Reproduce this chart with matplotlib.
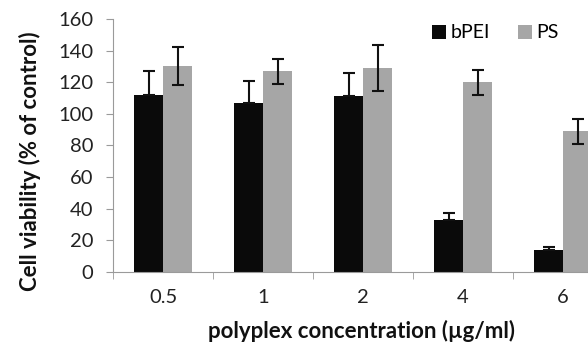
import numpy as np
from matplotlib import pyplot as plt

concentrations = ['0.5', '1', '2', '4', '6']
bpei = [112, 107, 111, 33, 14]
bpei_err = [15, 14, 15, 4.5, 2]
ps = [130, 127, 129, 120, 89]
ps_err = [12, 8, 14.5, 8, 8]

plt.rcParams['font.family'] = ['Lato', 'DejaVu Sans']

fig = plt.figure(figsize=(5.88, 3.48), dpi=100)
ax = fig.add_axes([113 / 588, 76 / 348, 1 - 113 / 588, 253 / 348])

inds = np.arange(len(concentrations))
w = 0.29
axis_col = '#9a9a9a'
ekw = dict(ecolor='#111111', elinewidth=1.5, capsize=4.5, capthick=1.5)
# lower half of the bPEI bars' error bars is hidden inside the black bar
ax.bar(inds - w / 2, bpei, w, color='#0a0a0a', label='bPEI',
       yerr=[np.zeros(len(bpei)), bpei_err], error_kw=ekw)
ax.bar(inds + w / 2, ps, w, color='#a6a6a6', label='PS', yerr=ps_err, error_kw=ekw)

ax.set_xlim(-0.5, 4.25)
ax.set_ylim(0, 160)
ax.set_yticks(np.arange(0, 161, 20))
ax.set_xticks(inds)
ax.set_xticklabels(concentrations)
ax.set_xticks(np.arange(-0.5, 4.0, 1), minor=True)
ax.tick_params(axis='x', which='major', length=0, pad=12, labelsize=14.5, colors='#222222')
ax.tick_params(axis='x', which='minor', length=5, color=axis_col, direction='out')
ax.tick_params(axis='y', length=5, color=axis_col, labelsize=14.5, labelcolor='#222222', pad=9)

for s in ['top', 'right']:
    ax.spines[s].set_visible(False)
ax.spines['left'].set_color(axis_col)
ax.spines['bottom'].set_color(axis_col)

fig.text(30 / 588, 1 - 161 / 348, 'Cell viability (% of control)', rotation=90,
         ha='center', va='center', fontsize=16, fontweight='bold', color='#111111')
fig.text(362 / 588, 10 / 348, 'polyplex concentration (\u00b5g/ml)',
         ha='center', va='baseline', fontsize=16, fontweight='bold', color='#111111')

ax.legend(loc='center left', bbox_to_anchor=(432 / 588, 1 - 33 / 348), bbox_transform=fig.transFigure,
          ncol=2, frameon=False, borderpad=0, borderaxespad=0,
          fontsize=14, handlelength=0.7, handleheight=0.7, handletextpad=0.25, columnspacing=1.45)

fig.savefig('out.png', dpi=100)
